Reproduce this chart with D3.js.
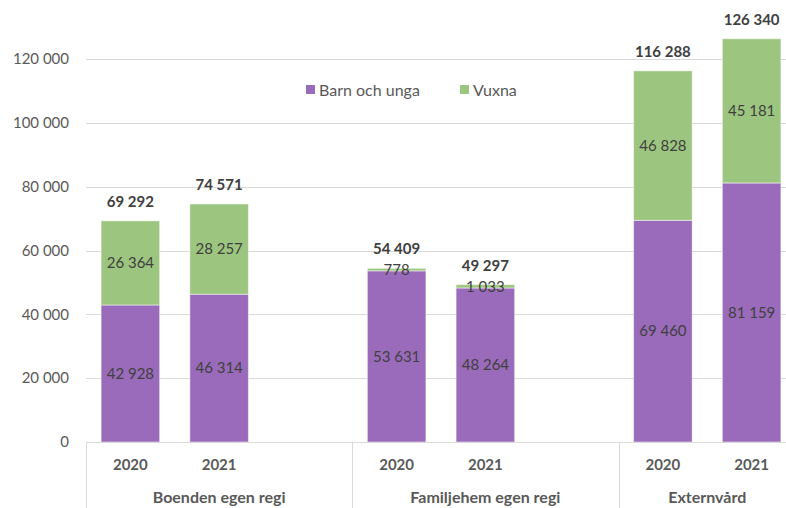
<!DOCTYPE html>
<html>
<head>
<meta charset="utf-8">
<script src="https://cdn.jsdelivr.net/npm/d3@7"></script>
<style>
  body { margin: 0; background: #fff; }
  svg { display: block; font-family: Lato, "Open Sans", sans-serif; }
  .grid line { stroke: #d9d9d9; stroke-width: 1; }
  .ytick { fill: #595959; font-size: 15px; }
  .seg { fill: #404040; font-size: 15px; }
  .total { fill: #404040; font-size: 15px; font-weight: bold; }
  .cat { fill: #595959; font-size: 15px; font-weight: bold; }
  .grp { fill: #595959; font-size: 16px; font-weight: bold; }
  .legend text { fill: #595959; font-size: 16px; }
</style>
</head>
<body>
<div id="chart"></div>
<script>
// data
var groups = ["Boenden egen regi", "Familjehem egen regi", "Externvård"];
var years = ["2020", "2021"];
var barnOchUnga = [42928, 46314, 53631, 48264, 69460, 81159];
var vuxna = [26364, 28257, 778, 1033, 46828, 45181];
var yTicks = [0, 20000, 40000, 60000, 80000, 100000, 120000];
var seriesNames = ["Barn och unga", "Vuxna"];
var colors = ["#9a6bba", "#9cc57f"];

var W = 786, H = 508;
var margin = {top: 59, left: 86, bottom: 66};
var plotH = H - margin.bottom;   // y of the zero line
var plotRight = 796;             // plot runs a bit past the window edge

// slots: each group gets its years, plus an empty slot between groups
var slots = [];
var rows = [];
groups.forEach(function(g, gi) {
  years.forEach(function(y, yi) {
    var key = g + "|" + y;
    slots.push(key);
    rows.push({group: g, year: y, key: key, idx: gi * years.length + yi});
  });
  if (gi < groups.length - 1) slots.push(g + "|gap");
});

rows.forEach(function(r) {
  r.barn = barnOchUnga[r.idx];
  r.vuxna = vuxna[r.idx];
  r.total = r.barn + r.vuxna;
});

var fmt = function(v) { return d3.format(",")(v).replace(/,/g, " "); };

var x = d3.scaleBand()
  .domain(slots)
  .range([margin.left, plotRight])
  .paddingInner(0.34)
  .paddingOuter(0.17);

var y = d3.scaleLinear()
  .domain([0, 120000])
  .range([plotH, margin.top]);

var svg = d3.select("#chart").append("svg")
  .attr("width", W)
  .attr("height", H);

// gridlines
svg.append("g")
  .attr("class", "grid")
  .selectAll("line")
  .data(yTicks)
  .join("line")
  .attr("x1", margin.left)
  .attr("x2", plotRight)
  .attr("y1", function(d) { return Math.round(y(d)) + 0.5; })
  .attr("y2", function(d) { return Math.round(y(d)) + 0.5; });

// y labels
svg.append("g")
  .selectAll("text")
  .data(yTicks)
  .join("text")
  .attr("class", "ytick")
  .attr("x", 69)
  .attr("y", function(d) { return y(d); })
  .attr("dy", "0.35em")
  .attr("text-anchor", "end")
  .text(fmt);

// stacked bars
var stack = d3.stack().keys(["barn", "vuxna"]);
var layers = stack(rows);

svg.append("g")
  .selectAll("g")
  .data(layers)
  .join("g")
  .attr("fill", function(d, i) { return colors[i]; })
  .selectAll("rect")
  .data(function(d) { return d; })
  .join("rect")
  .attr("x", function(d) { return x(d.data.key); })
  .attr("width", x.bandwidth())
  .attr("y", function(d) { return y(d[1]); })
  .attr("height", function(d) { return y(d[0]) - y(d[1]); })
  .attr("stroke", "#fff")
  .attr("stroke-opacity", 0.5)
  .attr("stroke-width", 1);

// segment labels
layers.forEach(function(layer, li) {
  svg.append("g")
    .selectAll("text")
    .data(layer)
    .join("text")
    .attr("class", "seg")
    .attr("x", function(d) { return x(d.data.key) + x.bandwidth() / 2; })
    .attr("y", function(d) { return (y(d[0]) + y(d[1])) / 2; })
    .attr("dy", "0.35em")
    .attr("text-anchor", "middle")
    .text(function(d) { return fmt(d[1] - d[0]); });
});

// totals
svg.append("g")
  .selectAll("text")
  .data(rows)
  .join("text")
  .attr("class", "total")
  .attr("x", function(d) { return x(d.key) + x.bandwidth() / 2; })
  .attr("y", function(d) { return y(d.total) - 14; })
  .attr("text-anchor", "middle")
  .text(function(d) { return fmt(d.total); });

// category axis box
var axisG = svg.append("g").attr("stroke", "#d9d9d9").attr("stroke-width", 1);
axisG.append("line")
  .attr("x1", margin.left).attr("x2", plotRight)
  .attr("y1", plotH + 0.5).attr("y2", plotH + 0.5);

var step = x.step();
var groupEdges = [];
groups.forEach(function(g) {
  var keys = slots.filter(function(s) { return s.split("|")[0] === g; });
  var start = x(keys[0]) - x.paddingOuter() * step;
  groupEdges.push({group: g, x0: start, x1: start + keys.length * step});
});

axisG.selectAll("line.sep")
  .data(groupEdges.map(function(d) { return d.x0; }).concat([plotRight]))
  .join("line")
  .attr("class", "sep")
  .attr("x1", function(d) { return Math.round(d) + 0.5; })
  .attr("x2", function(d) { return Math.round(d) + 0.5; })
  .attr("y1", plotH)
  .attr("y2", H);

svg.append("g")
  .selectAll("text")
  .data(rows)
  .join("text")
  .attr("class", "cat")
  .attr("x", function(d) { return x(d.key) + x.bandwidth() / 2; })
  .attr("y", 470)
  .attr("text-anchor", "middle")
  .text(function(d) { return d.year; });

svg.append("g")
  .selectAll("text")
  .data(groupEdges)
  .join("text")
  .attr("class", "grp")
  .attr("x", function(d) { return (d.x0 + d.x1) / 2; })
  .attr("y", 503)
  .attr("text-anchor", "middle")
  .text(function(d) { return d.group; });

// legend
var legend = svg.append("g").attr("class", "legend");
var legendX = [306, 460];
seriesNames.forEach(function(name, i) {
  legend.append("rect")
    .attr("x", legendX[i]).attr("y", 85)
    .attr("width", 9).attr("height", 9)
    .attr("fill", colors[i]);
  legend.append("text")
    .attr("x", legendX[i] + 13).attr("y", 90)
    .attr("dy", "0.35em")
    .text(name);
});
</script>
</body>
</html>
